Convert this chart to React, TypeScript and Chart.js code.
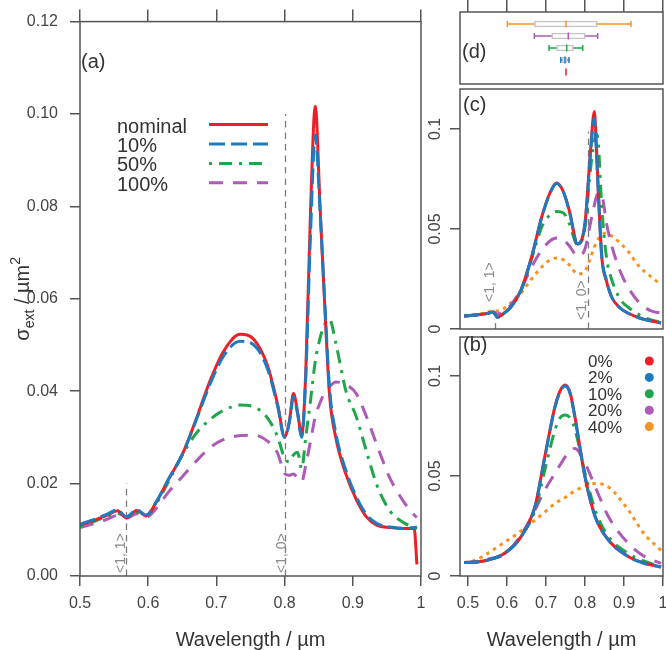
import React, { useEffect, useRef } from 'react';
import { Chart, registerables } from 'chart.js';

Chart.register(...registerables);

// ---------------- panel (a) data ----------------
const aWavelength = [0.500, 0.520, 0.540, 0.555, 0.568, 0.583, 0.597, 0.610, 0.630, 0.650, 0.670, 0.690, 0.710, 0.735, 0.755, 0.775, 0.790, 0.800, 0.807, 0.813, 0.819, 0.825, 0.831, 0.838, 0.845, 0.852, 0.859, 0.866, 0.875, 0.890, 0.905, 0.920, 0.935, 0.955, 0.975, 0.990, 0.994];
const aNominal = [0.0110, 0.0120, 0.0132, 0.0141, 0.0126, 0.0142, 0.0130, 0.0155, 0.0210, 0.0263, 0.0338, 0.0420, 0.0485, 0.0523, 0.0512, 0.0455, 0.0370, 0.0302, 0.0335, 0.0395, 0.0355, 0.0305, 0.0440, 0.0790, 0.1017, 0.0800, 0.0580, 0.0390, 0.0300, 0.0220, 0.0166, 0.0128, 0.0110, 0.0105, 0.0103, 0.0103, 0.0025];
const a10 = [0.0112, 0.0122, 0.0134, 0.0143, 0.0128, 0.0143, 0.0132, 0.0156, 0.0210, 0.0263, 0.0336, 0.0413, 0.0475, 0.0508, 0.0500, 0.0448, 0.0366, 0.0300, 0.0333, 0.0388, 0.0352, 0.0300, 0.0430, 0.0740, 0.0955, 0.0790, 0.0590, 0.0405, 0.0310, 0.0228, 0.0172, 0.0133, 0.0114, 0.0106, 0.0103, 0.0105, 0.0106];
const a50 = [0.0108, 0.0118, 0.0129, 0.0136, 0.0128, 0.0138, 0.0130, 0.0152, 0.0205, 0.0262, 0.0308, 0.0338, 0.0358, 0.0370, 0.0366, 0.0342, 0.0300, 0.0255, 0.0247, 0.0262, 0.0268, 0.0232, 0.0300, 0.0380, 0.0465, 0.0515, 0.0545, 0.0555, 0.0505, 0.0400, 0.0345, 0.0270, 0.0198, 0.0140, 0.0115, 0.0105, 0.0102];
const a100 = [0.0105, 0.0113, 0.0123, 0.0131, 0.0125, 0.0135, 0.0127, 0.0143, 0.0182, 0.0215, 0.0248, 0.0277, 0.0295, 0.0304, 0.0305, 0.0292, 0.0265, 0.0222, 0.0218, 0.0221, 0.0212, 0.0204, 0.0240, 0.0292, 0.0345, 0.0375, 0.0398, 0.0410, 0.0420, 0.0414, 0.0395, 0.0345, 0.0285, 0.0210, 0.0160, 0.0132, 0.0127];
const aLegend = ['nominal', '10%', '50%', '100%'];
const aXRange = [0.5, 1.0];
const aYRange = [0, 0.12];
const aXTicks = [0.5, 0.6, 0.7, 0.8, 0.9, 1.0];
const aYTicks = [0, 0.02, 0.04, 0.06, 0.08, 0.1, 0.12];
const aModeWl = [0.567, 0.8];
const aModeTop = [0.02, 0.1];
const modeLabels = ['<1, 1>', '<1, 0>'];

// ---------------- panel (c) data ----------------
const cWavelength = [0.490, 0.520, 0.550, 0.565, 0.575, 0.590, 0.610, 0.636, 0.663, 0.689, 0.710, 0.727, 0.745, 0.760, 0.781, 0.800, 0.813, 0.824, 0.829, 0.834, 0.843, 0.855, 0.868, 0.890, 0.910, 0.940, 0.970, 0.995];
const c0 = [0.0065, 0.0070, 0.0078, 0.0085, 0.0058, 0.0075, 0.0110, 0.0195, 0.0360, 0.0560, 0.0680, 0.0730, 0.0685, 0.0590, 0.0425, 0.0530, 0.0860, 0.1087, 0.0920, 0.0695, 0.0360, 0.0240, 0.0160, 0.0105, 0.0080, 0.0055, 0.0040, 0.0030];
const c2 = [0.0065, 0.0070, 0.0078, 0.0085, 0.0058, 0.0075, 0.0110, 0.0195, 0.0358, 0.0558, 0.0678, 0.0728, 0.0683, 0.0588, 0.0425, 0.0525, 0.0850, 0.1055, 0.0900, 0.0690, 0.0365, 0.0245, 0.0162, 0.0105, 0.0080, 0.0055, 0.0040, 0.0030];
const c10 = [0.0065, 0.0070, 0.0078, 0.0085, 0.0060, 0.0076, 0.0110, 0.0192, 0.0350, 0.0510, 0.0570, 0.0588, 0.0580, 0.0525, 0.0420, 0.0510, 0.0780, 0.0940, 0.0975, 0.0930, 0.0610, 0.0360, 0.0250, 0.0150, 0.0110, 0.0070, 0.0045, 0.0035];
const c20 = [0.0065, 0.0070, 0.0080, 0.0085, 0.0075, 0.0085, 0.0120, 0.0200, 0.0310, 0.0395, 0.0440, 0.0455, 0.0445, 0.0415, 0.0365, 0.0400, 0.0520, 0.0620, 0.0660, 0.0680, 0.0670, 0.0530, 0.0420, 0.0290, 0.0210, 0.0130, 0.0090, 0.0080];
const c40 = [0.0065, 0.0070, 0.0085, 0.0090, 0.0090, 0.0100, 0.0130, 0.0180, 0.0250, 0.0310, 0.0345, 0.0355, 0.0345, 0.0320, 0.0275, 0.0290, 0.0350, 0.0410, 0.0430, 0.0450, 0.0470, 0.0480, 0.0465, 0.0430, 0.0390, 0.0310, 0.0260, 0.0220];
const cModeWl = [0.569, 0.807];
const cModeTop = [0.003, 0.0987];
const cYRange = [0, 0.12];

// ---------------- panel (b) data ----------------
const bWavelength = [0.490, 0.520, 0.552, 0.595, 0.636, 0.672, 0.697, 0.723, 0.736, 0.749, 0.762, 0.774, 0.800, 0.826, 0.860, 0.911, 0.950, 0.995];
const b0 = [0.0067, 0.0070, 0.0080, 0.0115, 0.0197, 0.0350, 0.0597, 0.0847, 0.0925, 0.0955, 0.0915, 0.0797, 0.0497, 0.0297, 0.0180, 0.0097, 0.0065, 0.0045];
const b2 = [0.0067, 0.0070, 0.0080, 0.0115, 0.0195, 0.0348, 0.0595, 0.0843, 0.0920, 0.0950, 0.0910, 0.0795, 0.0495, 0.0297, 0.0180, 0.0097, 0.0065, 0.0045];
const b10 = [0.0067, 0.0070, 0.0080, 0.0115, 0.0200, 0.0330, 0.0530, 0.0730, 0.0790, 0.0805, 0.0790, 0.0735, 0.0515, 0.0330, 0.0197, 0.0113, 0.0075, 0.0047];
const b20 = [0.0067, 0.0072, 0.0085, 0.0110, 0.0205, 0.0330, 0.0430, 0.0513, 0.0555, 0.0595, 0.0625, 0.0638, 0.0565, 0.0447, 0.0297, 0.0163, 0.0100, 0.0063];
const b40 = [0.0067, 0.0080, 0.0115, 0.0170, 0.0225, 0.0280, 0.0320, 0.0363, 0.0378, 0.0392, 0.0410, 0.0425, 0.0450, 0.0463, 0.0445, 0.0330, 0.0215, 0.0128];
const bLegend = ['0%', '2%', '10%', '20%', '40%'];
const bYRange = [0, 0.1195];

// shared right-column axes
const rXRange = [0.4795, 1.0];
const rXTicks = [0.5, 0.6, 0.7, 0.8, 0.9, 1.0];
const rYTicks = [0, 0.05, 0.1];
const rYLabels = ['0', '0.05', '0.1'];

// ---------------- panel (d) data (box plots) ----------------
const dRows = [5, 4, 3, 2, 1];
const dWhiskerLow = [0.6008, 0.6700, 0.7077, 0.7377, 0.7513];
const dQ1 = [0.6700, 0.7146, 0.7274, 0.7418, 0.7513];
const dMedian = [0.7513, 0.7572, 0.7531, 0.7487, 0.7513];
const dQ3 = [0.8315, 0.8008, 0.7700, 0.7546, 0.7513];
const dWhiskerHigh = [0.9179, 0.8326, 0.7941, 0.7590, 0.7513];
const dYRange = [0, 6];

// ---------------- styles ----------------
const FONT = '"Liberation Sans", Arial, Helvetica, sans-serif';
const TEXT = '#333333';
const TICK_TEXT = '#444444';
const AXIS = '#555555';
const MODE = '#7c7c7c';
const RED = '#ee1f26';
const BLUE = '#1d7bbf';
const GREEN = '#1fa64a';
const PURPLE = '#ad5bb7';
const ORANGE = '#f7931e';
const SOLID: number[] = [];
const LONGDASH = [16, 6];
const DOTDASH = [3, 7, 13, 7];
const DASHED = [14, 10];
const DOTTED = [3.5, 4.5];

const aColors = [RED, BLUE, GREEN, PURPLE];
const aDashes = [SOLID, LONGDASH, DOTDASH, DASHED];
const aOrder = [1, 0, 2, 3];
const rColors = [RED, BLUE, GREEN, PURPLE, ORANGE];
const rDashes = [SOLID, LONGDASH, DOTDASH, DASHED, DOTTED];
const rOrder = [1, 0, 2, 3, 4];
const dColors = [ORANGE, PURPLE, GREEN, BLUE, RED];

Chart.defaults.font.family = FONT;

const fixedTicks = (vals: number[]) => (scale: any) => {
  scale.ticks = vals.map((v) => ({ value: v }));
};
const fmtX = (v: any) => (Math.abs(Number(v) - 1) < 1e-9 ? '1' : Number(v).toFixed(1));

const lineSet = (label: string, xs: number[], ys: number[], color: string, dash: number[], order: number) => ({
  type: 'line',
  label,
  data: xs.map((x, i) => ({ x, y: ys[i] })),
  borderColor: color,
  backgroundColor: color,
  borderWidth: 3,
  borderDash: dash,
  borderCapStyle: 'butt',
  borderJoinStyle: 'round',
  pointRadius: 0,
  fill: false,
  cubicInterpolationMode: 'monotone',
  order,
  xAxisID: 'x',
  yAxisID: 'y',
});

const tickGrid = (len: number) => ({
  drawOnChartArea: false,
  drawTicks: true,
  tickLength: len,
  color: AXIS,
  lineWidth: 1.5,
});
const hidden = { display: false };

function drawBox(chart: any) {
  const { ctx, chartArea: a } = chart;
  ctx.save();
  ctx.strokeStyle = AXIS;
  ctx.lineWidth = 1.5;
  ctx.setLineDash([]);
  ctx.strokeRect(a.left, a.top, a.right - a.left, a.bottom - a.top);
  ctx.restore();
}

function drawModeLines(chart: any, wls: number[], tops: number[]) {
  const { ctx, scales } = chart;
  const x = scales.x;
  const y = scales.y;
  ctx.save();
  ctx.strokeStyle = MODE;
  ctx.lineWidth = 1.3;
  ctx.setLineDash([6.5, 5]);
  wls.forEach((w, i) => {
    const px = Math.round(x.getPixelForValue(w)) + 0.5;
    ctx.beginPath();
    ctx.moveTo(px, y.getPixelForValue(0));
    ctx.lineTo(px, y.getPixelForValue(tops[i]));
    ctx.stroke();
  });
  ctx.restore();
}

function drawModeLabels(chart: any, wls: number[], lifts: number[], shifts: number[]) {
  const { ctx, scales, chartArea: a } = chart;
  ctx.save();
  ctx.fillStyle = '#8a8a8a';
  ctx.font = `14px ${FONT}`;
  ctx.textAlign = 'left';
  ctx.textBaseline = 'middle';
  wls.forEach((w, i) => {
    const px = scales.x.getPixelForValue(w) + shifts[i];
    ctx.save();
    ctx.translate(px, a.bottom - lifts[i]);
    ctx.rotate(-Math.PI / 2);
    ctx.fillText(modeLabels[i], 0, 0);
    ctx.restore();
  });
  ctx.restore();
}

function drawPanelTag(chart: any, text: string, dx: number, baseline: number) {
  const { ctx, chartArea: a } = chart;
  ctx.save();
  ctx.fillStyle = TEXT;
  ctx.font = `20px ${FONT}`;
  ctx.textAlign = 'left';
  ctx.textBaseline = 'alphabetic';
  ctx.fillText(text, a.left + dx, a.top + baseline);
  ctx.restore();
}

function drawRotYLabels(chart: any) {
  const { ctx, chartArea: a, scales } = chart;
  ctx.save();
  ctx.fillStyle = TICK_TEXT;
  ctx.font = `16px ${FONT}`;
  ctx.textAlign = 'center';
  ctx.textBaseline = 'alphabetic';
  rYTicks.forEach((v, i) => {
    ctx.save();
    ctx.translate(a.left - 20, scales.y.getPixelForValue(v));
    ctx.rotate(-Math.PI / 2);
    ctx.fillText(rYLabels[i], 0, 0);
    ctx.restore();
  });
  ctx.restore();
}

function drawXTitle(chart: any, baselineBelow: number) {
  const { ctx, chartArea: a } = chart;
  ctx.save();
  ctx.fillStyle = TEXT;
  ctx.font = `20px ${FONT}`;
  ctx.textAlign = 'center';
  ctx.textBaseline = 'alphabetic';
  ctx.fillText('Wavelength / \u00b5m', (a.left + a.right) / 2, a.bottom + baselineBelow);
  ctx.restore();
}

const mainDecor = {
  id: 'mainDecor',
  beforeDatasetsDraw(chart: any) {
    drawModeLines(chart, aModeWl, aModeTop);
  },
  afterDraw(chart: any) {
    const { ctx, chartArea: a } = chart;
    drawBox(chart);
    drawModeLabels(chart, aModeWl, [3, 3], [-4.9, -2.6]);
    drawPanelTag(chart, '(a)', 1, 46);
    // legend
    ctx.save();
    aLegend.forEach((lbl, i) => {
      const yb = a.top + 111 + i * 19.4;
      ctx.fillStyle = TEXT;
      ctx.font = `20px ${FONT}`;
      ctx.textAlign = 'left';
      ctx.textBaseline = 'alphabetic';
      ctx.fillText(lbl, a.left + 37, yb);
      ctx.strokeStyle = aColors[i];
      ctx.lineWidth = 3;
      ctx.lineCap = 'butt';
      ctx.setLineDash(aDashes[i]);
      ctx.beginPath();
      ctx.moveTo(a.left + 129, yb - 8);
      ctx.lineTo(a.left + 188, yb - 8);
      ctx.stroke();
    });
    ctx.restore();
    // y title: sigma_ext / um^2
    ctx.save();
    ctx.fillStyle = TEXT;
    ctx.textBaseline = 'alphabetic';
    ctx.textAlign = 'left';
    const parts = [
      { t: '\u03c3', size: 20, dy: 0 },
      { t: 'ext', size: 14, dy: 5 },
      { t: ' / \u00b5m', size: 20, dy: 0 },
      { t: '2', size: 14, dy: -9 },
    ];
    let total = 0;
    parts.forEach((p) => {
      ctx.font = `${p.size}px ${FONT}`;
      total += ctx.measureText(p.t).width;
    });
    ctx.translate(29, (a.top + a.bottom) / 2);
    ctx.rotate(-Math.PI / 2);
    let cx = -total / 2;
    parts.forEach((p) => {
      ctx.font = `${p.size}px ${FONT}`;
      ctx.fillText(p.t, cx, p.dy);
      cx += ctx.measureText(p.t).width;
    });
    ctx.restore();
    drawXTitle(chart, 70);
  },
};

const cDecor = {
  id: 'cDecor',
  beforeDatasetsDraw(chart: any) {
    drawModeLines(chart, cModeWl, cModeTop);
  },
  afterDraw(chart: any) {
    drawBox(chart);
    drawModeLabels(chart, cModeWl, [27, 9], [-4.5, -5.7]);
    drawRotYLabels(chart);
    drawPanelTag(chart, '(c)', 3, 22);
  },
};

const bDecor = {
  id: 'bDecor',
  afterDraw(chart: any) {
    const { ctx, chartArea: a } = chart;
    drawBox(chart);
    drawRotYLabels(chart);
    drawPanelTag(chart, '(b)', 3, 14);
    drawXTitle(chart, 70);
    ctx.save();
    bLegend.forEach((lbl, i) => {
      const yb = a.top + 30 + i * 16.4;
      ctx.fillStyle = TEXT;
      ctx.font = `17px ${FONT}`;
      ctx.textAlign = 'left';
      ctx.textBaseline = 'alphabetic';
      ctx.fillText(lbl, a.left + 128, yb);
      ctx.fillStyle = rColors[i];
      ctx.beginPath();
      ctx.arc(a.left + 189.3, yb - 6, 4.5, 0, Math.PI * 2);
      ctx.fill();
    });
    ctx.restore();
  },
};

const dDecor = {
  id: 'dDecor',
  afterDatasetsDraw(chart: any) {
    const { ctx, scales } = chart;
    const px = (v: number) => scales.x.getPixelForValue(v);
    ctx.save();
    ctx.lineWidth = 1.5;
    ctx.setLineDash([]);
    const seg = (x1: number, y1: number, x2: number, y2: number) => {
      ctx.beginPath();
      ctx.moveTo(x1, y1);
      ctx.lineTo(x2, y2);
      ctx.stroke();
    };
    dRows.forEach((r, i) => {
      const yy = scales.y.getPixelForValue(r);
      ctx.strokeStyle = dColors[i];
      if (dWhiskerHigh[i] > dWhiskerLow[i]) {
        seg(px(dWhiskerLow[i]), yy, px(dQ1[i]), yy);
        seg(px(dQ3[i]), yy, px(dWhiskerHigh[i]), yy);
        seg(px(dWhiskerLow[i]), yy - 3, px(dWhiskerLow[i]), yy + 3);
        seg(px(dWhiskerHigh[i]), yy - 3, px(dWhiskerHigh[i]), yy + 3);
      }
      seg(px(dMedian[i]), yy - 3.5, px(dMedian[i]), yy + 3.5);
    });
    ctx.restore();
  },
  afterDraw(chart: any) {
    drawBox(chart);
    drawPanelTag(chart, '(d)', 2, 46);
  },
};

const baseOptions = (padTop: number, padRight: number) => ({
  responsive: false,
  animation: false,
  devicePixelRatio: 1,
  events: [],
  layout: { padding: { top: padTop, right: padRight, bottom: 0, left: 0 } },
  plugins: { legend: { display: false }, tooltip: { enabled: false } },
});

function buildMain(): any {
  const series = [aNominal, a10, a50, a100];
  return {
    type: 'line',
    data: { datasets: series.map((ys, i) => lineSet(aLegend[i], aWavelength, ys, aColors[i], aDashes[i], aOrder[i])) },
    options: {
      ...baseOptions(0, 19),
      scales: {
        x: {
          type: 'linear', position: 'bottom', min: aXRange[0], max: aXRange[1],
          afterBuildTicks: fixedTicks(aXTicks),
          ticks: { callback: fmtX, font: { size: 16, family: FONT }, color: TICK_TEXT, padding: 8, maxRotation: 0, minRotation: 0, autoSkip: false },
          grid: tickGrid(10), border: hidden,
          afterFit: (s: any) => { s.height = 74; },
        },
        xTop: {
          type: 'linear', position: 'top', axis: 'x', min: aXRange[0], max: aXRange[1],
          afterBuildTicks: fixedTicks(aXTicks),
          ticks: { display: false },
          grid: tickGrid(12), border: hidden,
          afterFit: (s: any) => { s.height = 12; },
        },
        y: {
          type: 'linear', position: 'left', min: aYRange[0], max: aYRange[1],
          afterBuildTicks: fixedTicks(aYTicks),
          ticks: { callback: (v: any) => Number(v).toFixed(2), font: { size: 16, family: FONT }, color: TICK_TEXT, padding: 12 },
          grid: tickGrid(10), border: hidden,
          afterFit: (s: any) => { s.width = 80; },
        },
      },
    },
    plugins: [mainDecor],
  };
}

function buildRight(isB: boolean): any {
  const xs = isB ? bWavelength : cWavelength;
  const series = isB ? [b0, b2, b10, b20, b40] : [c0, c2, c10, c20, c40];
  const yr = isB ? bYRange : cYRange;
  return {
    type: 'line',
    data: { datasets: series.map((ys, i) => lineSet(bLegend[i], xs, ys, rColors[i], rDashes[i], rOrder[i])) },
    options: {
      ...baseOptions(isB ? 4 : 3, 17),
      scales: {
        x: isB
          ? {
              type: 'linear', position: 'bottom', min: rXRange[0], max: rXRange[1],
              afterBuildTicks: fixedTicks(rXTicks),
              ticks: { callback: fmtX, font: { size: 16, family: FONT }, color: TICK_TEXT, padding: 8, maxRotation: 0, minRotation: 0, autoSkip: false },
              grid: tickGrid(10), border: hidden,
              afterFit: (s: any) => { s.height = 74; },
            }
          : {
              type: 'linear', position: 'bottom', min: rXRange[0], max: rXRange[1],
              ticks: { display: false }, grid: { display: false }, border: hidden,
              afterFit: (s: any) => { s.height = 4; },
            },
        y: {
          type: 'linear', position: 'left', min: yr[0], max: yr[1],
          afterBuildTicks: fixedTicks(rYTicks),
          ticks: { display: false },
          grid: tickGrid(10), border: hidden,
          afterFit: (s: any) => { s.width = 40; },
        },
      },
    },
    plugins: [isB ? bDecor : cDecor],
  };
}

function buildBox(): any {
  return {
    type: 'bar',
    data: {
      datasets: [
        {
          label: 'spread',
          data: dRows.map((r, i) => ({ x: [dQ1[i], dQ3[i]], y: r })),
          backgroundColor: 'rgba(255,255,255,0)',
          borderColor: '#c4c4c4',
          borderWidth: 1,
          borderSkipped: false,
          barThickness: 6,
          xAxisID: 'x',
          yAxisID: 'y',
        },
      ],
    },
    options: {
      ...baseOptions(0, 17),
      indexAxis: 'y',
      scales: {
        x: {
          type: 'linear', position: 'bottom', min: rXRange[0], max: rXRange[1],
          ticks: { display: false }, grid: { display: false }, border: hidden,
          afterFit: (s: any) => { s.height = 4; },
        },
        xTop: {
          type: 'linear', position: 'top', axis: 'x', min: rXRange[0], max: rXRange[1],
          afterBuildTicks: fixedTicks(rXTicks),
          ticks: { display: false },
          grid: tickGrid(12), border: hidden,
          afterFit: (s: any) => { s.height = 12; },
        },
        y: {
          type: 'linear', position: 'left', min: dYRange[0], max: dYRange[1], offset: false,
          ticks: { display: false }, grid: { display: false, offset: false }, border: hidden,
          afterFit: (s: any) => { s.width = 20; },
        },
      },
    },
    plugins: [dDecor],
  };
}

function ChartCanvas(props: { left: number; top: number; width: number; height: number; build: () => any }) {
  const ref = useRef<HTMLCanvasElement | null>(null);
  useEffect(() => {
    const chart = new Chart(ref.current as HTMLCanvasElement, props.build());
    return () => chart.destroy();
  }, []);
  return (
    <canvas
      ref={ref}
      width={props.width}
      height={props.height}
      style={{ position: 'absolute', left: props.left, top: props.top, width: props.width, height: props.height }}
    />
  );
}

export default function App() {
  return (
    <div style={{ position: 'absolute', left: 0, top: 0, width: 666, height: 650, overflow: 'hidden', background: '#ffffff' }}>
      <ChartCanvas left={0} top={0} width={440} height={650} build={buildMain} />
      <ChartCanvas left={440} top={0} width={240} height={88} build={buildBox} />
      <ChartCanvas left={420} top={86} width={260} height={247} build={() => buildRight(false)} />
      <ChartCanvas left={420} top={333} width={260} height={317} build={() => buildRight(true)} />
    </div>
  );
}
